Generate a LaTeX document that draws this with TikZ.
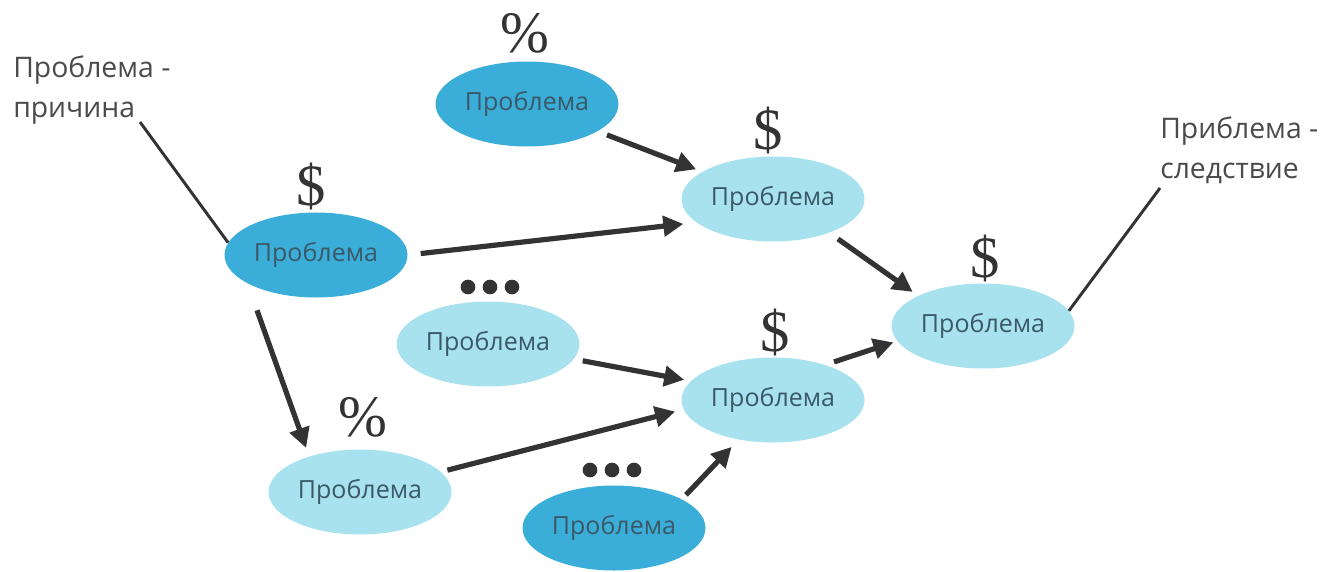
\documentclass[tikz,border=0pt]{standalone}
\usepackage{fontspec}
\setmainfont{Open Sans}
\newfontfamily\signfont{Liberation Serif}
\usetikzlibrary{shapes.geometric,arrows.meta,calc}
\definecolor{probdark}{HTML}{3AAED9}
\definecolor{problight}{HTML}{A8E2EE}
\definecolor{probtext}{HTML}{3A5866}
\definecolor{ink}{HTML}{333333}
\definecolor{labelgrey}{HTML}{4A4A4A}
\begin{document}
\begin{tikzpicture}[x=0.75pt,y=-0.75pt,
  prob/.style={ellipse, minimum width=137.25pt, minimum height=63.75pt, inner sep=0pt,
    text=probtext, font=\fontsize{18.75}{20}\selectfont},
  darkprob/.style={prob, fill=probdark},
  lightprob/.style={prob, fill=problight},
  sign/.style={inner sep=0pt, text=ink, font=\signfont\fontsize{44}{44}\selectfont},
  caption/.style={inner sep=0pt, align=left, anchor=north west, text=labelgrey,
    font=\fontsize{21.25}{29.5}\selectfont},
  arr/.style={draw=ink, line width=3.9pt, -{Triangle[length=15pt,width=15pt]}},
  leader/.style={draw=ink, line width=2.2pt},
  dotmark/.style={circle, fill=ink, inner sep=0pt, minimum size=11pt}
]
\useasboundingbox (0,0) rectangle (1333,571);

% problem nodes
\node[darkprob]  (A) at (527,104) {Проблема};
\node[lightprob] (B) at (773,199) {Проблема};
\node[darkprob]  (C) at (316,255) {Проблема};
\node[lightprob] (D) at (983,326) {Проблема};
\node[lightprob] (E) at (488,344) {Проблема};
\node[lightprob] (F) at (773,400) {Проблема};
\node[lightprob] (G) at (360,492) {Проблема};
\node[darkprob]  (H) at (614,528) {Проблема};

% cost marks above the nodes
\node[sign] (sC) at (311,186) {\$};
\node[sign] (sB) at (768,130) {\$};
\node[sign] (sD) at (985,258) {\$};
\node[sign] (sF) at (775,332) {\$};
\node[sign] (pA) at (525,33) {\%};
\node[sign] (pG) at (363,417) {\%};

% ellipsis marks
\node[dotmark] (e1) at (468,287) {};
\node[dotmark] (e2) at (490,287) {};
\node[dotmark] (e3) at (512,287) {};
\node[dotmark] (h1) at (590,470) {};
\node[dotmark] (h2) at (612,470) {};
\node[dotmark] (h3) at (634,470) {};

% captions and their leaders
\node[caption] (cause) at (13,56) {Проблема -\\причина};
\node[caption] (effect) at (1160,117) {Приблема -\\следствие};
\coordinate (causeend) at (140,122);
\coordinate (effectend) at (1160,188);
\draw[leader] (causeend) -- (C.172);
\draw[leader] (effectend) -- (D.10);

% causal arrows
\draw[arr, shorten <=7.5pt, shorten >=5pt] (A) -- (B);
\draw[arr, shorten <=9.75pt, shorten >=9.75pt] (C.east) -- (B.197);
\draw[arr, shorten <=8pt, shorten >=5pt] (B.-31) -- (D.155);
\draw[arr, shorten <=7pt, shorten >=3pt] (F.34) -- (D.190);
\draw[arr, shorten <=6.75pt, shorten >=5pt] (E.-10) -- (F.167);
\draw[arr, shorten <=5pt, shorten >=6.5pt] (G.14) -- (F.186);
\draw[arr, shorten <=4.5pt, shorten >=7.5pt] (H.23) -- (F.229);
\draw[arr, shorten >=6.75pt] ($(C.south)+(-59,12.5)$) -- (G.145);
\end{tikzpicture}
\end{document}
